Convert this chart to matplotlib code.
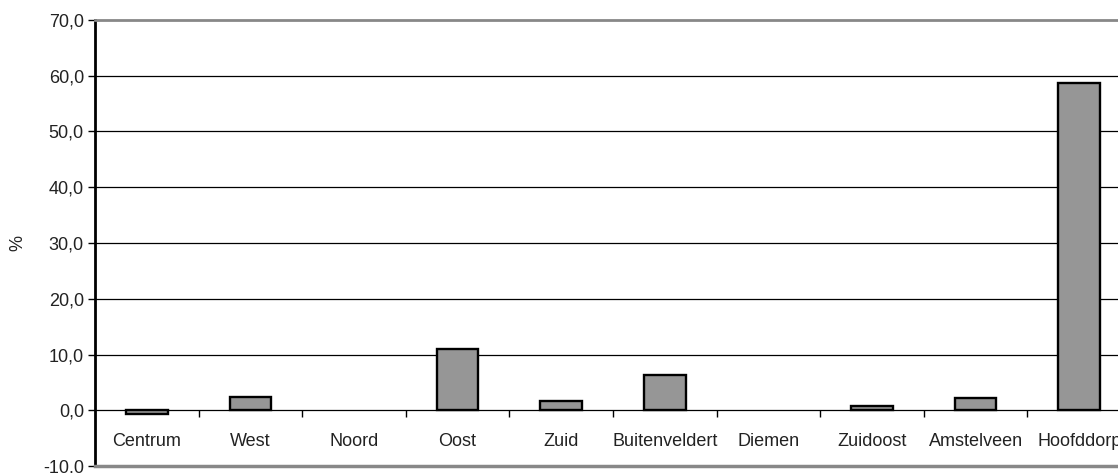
import numpy as np
import matplotlib.pyplot as plt
from matplotlib.ticker import FuncFormatter

categories = ['Centrum', 'West', 'Noord', 'Oost', 'Zuid', 'Buitenveldert',
              'Diemen', 'Zuidoost', 'Amstelveen', 'Hoofddorp']
values = [-0.7, 2.3, 0.0, 11.0, 1.6, 6.3, 0.0, 0.8, 2.2, 58.7]

plt.rcParams['font.family'] = ['Liberation Sans', 'DejaVu Sans']
fs = 13

fig = plt.figure(figsize=(11.18, 4.73), dpi=100)
ax = fig.add_axes([95 / 1118, 7 / 473, 1036 / 1118, 446 / 473])

x = np.arange(len(categories))
# empty bars (value 0) show no outline in the original
edge_w = [1.7 if v != 0 else 0 for v in values]
ax.bar(x, values, width=0.4, color='#969696', edgecolor='black',
       linewidth=edge_w, zorder=3)

ax.set_xlim(-0.5, len(categories) - 0.5)
ax.set_ylim(-10, 70)
ax.set_yticks(np.arange(-10, 71, 10))
ax.yaxis.set_major_formatter(FuncFormatter(lambda v, p: f'{v:.1f}'.replace('.', ',')))
ax.tick_params(axis='y', direction='out', length=5, width=1, labelsize=fs,
               pad=3, labelcolor='#222222')

for yv in range(10, 70, 10):
    ax.axhline(yv, color='black', linewidth=0.9, zorder=1)

# x axis sits at zero with ticks between categories
ax.spines['bottom'].set_position(('data', 0))
ax.spines['bottom'].set_linewidth(0.9)
ax.set_xticks(np.arange(0.5, len(categories) - 0.5, 1))
ax.set_xticklabels([])
ax.tick_params(axis='x', direction='out', length=5, width=1)

for i, name in enumerate(categories):
    ax.text(i, -6.4, name, ha='center', va='baseline', fontsize=fs,
            color='#222222')

ax.spines['left'].set_linewidth(2)
ax.spines['top'].set_color('#888888')
ax.spines['top'].set_linewidth(2)
ax.spines['right'].set_visible(False)
ax.axhline(-10, color='#888888', linewidth=2.5, clip_on=False, zorder=4)

ax.set_ylabel('%', fontsize=fs, labelpad=12, color='#222222')

fig.savefig('out.png', dpi=100)
